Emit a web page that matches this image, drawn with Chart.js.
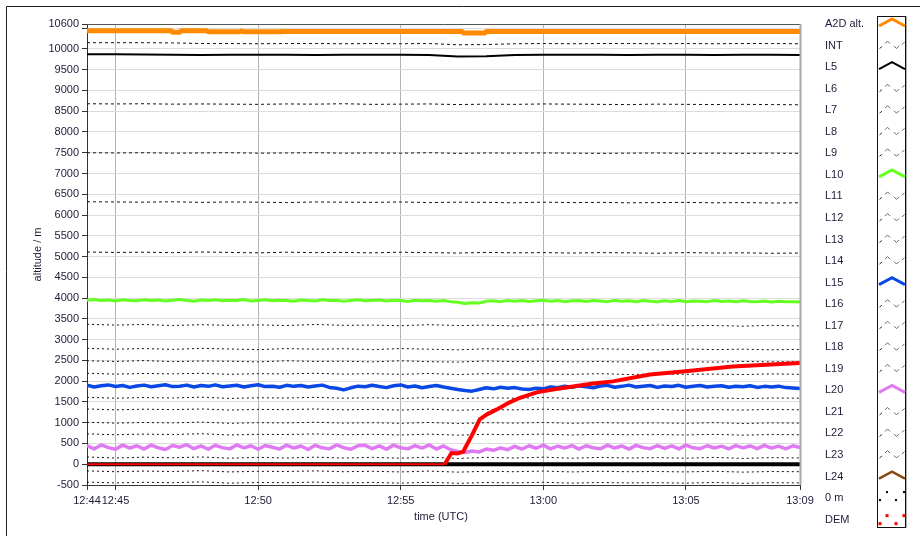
<!DOCTYPE html>
<html>
<head>
<meta charset="utf-8">
<title>Altitude levels</title>
<script src="https://cdn.jsdelivr.net/npm/chart.js@4.4.1/dist/chart.umd.min.js"></script>
<style>
  html, body { margin: 0; padding: 0; background: #ffffff; }
  canvas { display: block; }
</style>
</head>
<body>
<canvas id="chart" width="920" height="536"></canvas>
<script>
// Time axis is in minutes after 12:44 UTC.
const START_MINUTE = 12 * 60 + 44;
const xTickMinutes = [0, 1, 6, 11, 16, 21, 25];
const yTickValues = [-500, 0, 500, 1000, 1500, 2000, 2500, 3000, 3500, 4000, 4500, 5000,
  5500, 6000, 6500, 7000, 7500, 8000, 8500, 9000, 9500, 10000, 10500, 10600];

// Sample times
const minutesEvery1 = [0, 1, 2, 3, 4, 5, 6, 7, 8, 9, 10, 11, 12, 13, 14, 15, 16, 17, 18, 19, 20, 21, 22, 23, 24, 25];
const minutesEvery15s = Array.from({ length: 101 }, (_, i) => i * 0.25);

// Aircraft altitude (A2D)
const a2dTimes = [0, 2.95, 3.0, 3.25, 3.3, 4.2, 4.25, 5.35, 5.4, 5.5, 6.8, 6.85, 13.15, 13.2, 13.95, 14.0, 25];
const a2dAlt = [10436, 10436, 10400, 10400, 10436, 10436, 10415, 10415, 10430, 10415, 10415, 10422, 10422, 10385, 10385, 10422, 10422];

// Level altitudes, one value per minute
const intAlt = [10150,10150,10150,10145,10130,10130,10125,10130,10130,10125,10130,10125,10130,10100,10105,10125,10130,10125,10130,10130,10125,10130,10125,10130,10130,10125];
const l5Alt = [9870,9870,9865,9860,9855,9858,9862,9860,9855,9860,9858,9860,9855,9820,9825,9855,9860,9858,9860,9856,9860,9858,9855,9860,9858,9856];
const l6Alt = [8680,8675,8680,8670,8675,8670,8665,8675,8670,8680,8665,8670,8675,8660,8670,8665,8675,8670,8665,8660,8670,8665,8660,8665,8660,8655];
const l7Alt = [7500,7495,7500,7490,7495,7500,7490,7495,7500,7490,7495,7490,7500,7485,7495,7490,7495,7490,7485,7490,7495,7485,7490,7485,7490,7485];
const l8Alt = [6320,6315,6310,6320,6305,6315,6310,6300,6315,6310,6305,6315,6300,6310,6305,6295,6310,6300,6305,6295,6300,6305,6295,6300,6290,6295];
const l9Alt = [5110,5100,5105,5095,5110,5100,5090,5105,5095,5100,5090,5105,5095,5085,5100,5090,5095,5085,5095,5090,5080,5095,5085,5090,5080,5085];
const l11Alt = [3370,3350,3365,3340,3360,3345,3355,3340,3365,3345,3350,3335,3360,3340,3350,3330,3355,3340,3345,3330,3350,3335,3340,3325,3345,3330];
const l12Alt = [2790,2770,2785,2765,2790,2775,2760,2785,2770,2780,2760,2785,2770,2755,2780,2765,2775,2760,2780,2765,2755,2775,2760,2770,2755,2765];
const l13Alt = [2490,2475,2495,2470,2485,2480,2465,2490,2475,2480,2465,2490,2470,2460,2485,2470,2480,2465,2475,2460,2480,2470,2460,2475,2465,2470];
const l14Alt = [2190,2170,2185,2175,2190,2165,2180,2175,2190,2170,2180,2165,2185,2160,2180,2170,2175,2165,2180,2160,2175,2165,2170,2160,2175,2165];
const l16Alt = [1610,1590,1605,1595,1615,1585,1600,1595,1610,1590,1600,1585,1605,1580,1600,1590,1605,1585,1600,1590,1595,1585,1600,1580,1595,1590];
const l17Alt = [1330,1310,1325,1315,1330,1305,1320,1315,1330,1310,1320,1305,1325,1300,1320,1310,1325,1305,1315,1310,1320,1300,1315,1305,1320,1310];
const l18Alt = [1010,990,1005,995,1015,985,1000,995,1010,990,1000,985,1005,980,1000,990,1005,985,1000,990,995,985,1000,980,995,990];
const l19Alt = [730,710,725,715,735,705,720,715,730,710,720,705,725,700,720,710,725,705,720,710,715,705,720,700,715,710];
const l21Alt = [175,150,170,155,175,145,165,150,170,150,165,145,170,140,165,150,170,145,165,150,160,145,165,140,160,150];
const l22Alt = [-160,-180,-165,-175,-155,-185,-170,-175,-160,-180,-170,-185,-165,-190,-170,-180,-165,-185,-170,-180,-175,-185,-170,-190,-175,-180];
const l23Alt = [-430,-450,-435,-445,-425,-455,-440,-445,-430,-450,-440,-455,-435,-460,-440,-450,-435,-455,-440,-450,-445,-455,-440,-460,-445,-450];
const l24Alt = [-720,-730,-715,-725,-720,-735,-720,-725,-715,-730,-720,-735,-720,-740,-725,-730,-720,-735,-725,-730,-725,-735,-720,-740,-725,-730];
const seaLevel = [0,0,0,0,0,0,0,0,0,0,0,0,0,0,0,0,0,0,0,0,0,0,0,0,0,0];

// Coloured levels, one value every 15 s
const l10Alt = [
  3950,3965,3940,3955,3930,3960,3945,3935,3960,3940,
  3955,3930,3950,3965,3940,3925,3955,3945,3960,3935,
  3950,3940,3965,3930,3945,3960,3935,3950,3940,3925,
  3955,3945,3930,3960,3940,3950,3925,3945,3960,3935,
  3945,3955,3930,3950,3940,3920,3950,3935,3945,3925,
  3940,3915,3900,3870,3890,3880,3925,3935,3915,3940,
  3925,3945,3920,3935,3950,3925,3940,3915,3935,3945,
  3920,3940,3930,3915,3945,3925,3935,3910,3940,3925,
  3915,3935,3920,3940,3910,3930,3925,3915,3940,3920,
  3930,3910,3935,3920,3915,3930,3905,3925,3915,3910,3905];
const l15Alt = [
  1900,1860,1890,1910,1870,1895,1850,1885,1905,1865,
  1890,1915,1870,1880,1905,1860,1895,1875,1910,1865,
  1885,1900,1860,1890,1915,1870,1880,1855,1900,1875,
  1895,1860,1885,1905,1850,1830,1790,1840,1880,1865,
  1900,1870,1845,1890,1910,1860,1885,1840,1870,1895,
  1860,1830,1800,1775,1760,1800,1840,1815,1855,1830,
  1845,1810,1800,1830,1815,1860,1840,1880,1850,1890,
  1865,1840,1885,1900,1855,1875,1905,1860,1880,1895,
  1850,1885,1870,1900,1855,1880,1895,1860,1875,1890,
  1855,1880,1865,1890,1850,1875,1860,1880,1845,1835,1825];
const l20Alt = [
  450,370,465,400,360,460,390,445,365,460,
  395,355,450,410,470,375,440,360,455,400,
  370,465,395,445,360,450,410,365,460,390,
  440,355,455,395,370,465,400,360,445,455,
  375,440,360,460,395,370,450,390,465,365,
  440,350,310,280,320,295,365,335,395,350,
  430,365,445,385,460,370,435,390,450,365,
  445,395,370,460,390,440,365,455,400,375,
  450,380,440,370,460,395,375,445,390,435,
  370,450,395,440,375,455,390,435,370,445,400];

// Terrain height under the track
const demTimes = [0, 12.54, 12.78, 13.0, 13.19, 13.32, 13.5, 13.77, 14.02, 14.37, 14.82, 15.18, 15.77, 16.33, 17.04, 17.74, 18.44, 19.74, 20.89, 22.65, 25];
const demAlt = [0, 0, 270, 260, 300, 470, 700, 1080, 1200, 1320, 1490, 1600, 1730, 1800, 1870, 1945, 1995, 2160, 2235, 2355, 2440];

const pair = (xs, ys) => ys.map((y, i) => ({ x: xs[i], y }));

const solid = (label, xs, ys, color, width, order) => ({
  label, data: pair(xs, ys), borderColor: color, borderWidth: width,
  pointRadius: 0, tension: 0, order, legendIcon: 'solid'
});
const dashed = (label, ys, dash) => ({
  label, data: pair(minutesEvery1, ys), borderColor: '#111111', borderWidth: 1,
  borderDash: dash, pointRadius: 0, tension: 0, order: 5, legendIcon: 'dashed'
});
const LONG_DASH = [3, 3];
const SHORT_DASH = [2, 3];

const datasets = [
  solid('A2D alt.', a2dTimes, a2dAlt, '#ff8a00', 5, 3),
  dashed('INT', intAlt, LONG_DASH),
  solid('L5', minutesEvery1, l5Alt, '#000000', 2, 4),
  dashed('L6', l6Alt, LONG_DASH),
  dashed('L7', l7Alt, LONG_DASH),
  dashed('L8', l8Alt, LONG_DASH),
  dashed('L9', l9Alt, LONG_DASH),
  solid('L10', minutesEvery15s, l10Alt, '#66ff22', 3, 4),
  dashed('L11', l11Alt, SHORT_DASH),
  dashed('L12', l12Alt, SHORT_DASH),
  dashed('L13', l13Alt, SHORT_DASH),
  dashed('L14', l14Alt, SHORT_DASH),
  solid('L15', minutesEvery15s, l15Alt, '#0a48e6', 3.5, 4),
  dashed('L16', l16Alt, SHORT_DASH),
  dashed('L17', l17Alt, SHORT_DASH),
  dashed('L18', l18Alt, SHORT_DASH),
  dashed('L19', l19Alt, SHORT_DASH),
  solid('L20', minutesEvery15s, l20Alt, '#e07af2', 3.5, 4),
  dashed('L21', l21Alt, SHORT_DASH),
  dashed('L22', l22Alt, SHORT_DASH),
  dashed('L23', l23Alt, SHORT_DASH),
  solid('L24', minutesEvery1, l24Alt, '#8b4a12', 2.5, 4),
  Object.assign(solid('0 m', minutesEvery1, seaLevel, '#000000', 4, 1), { legendIcon: 'dots', dotColor: '#000000' }),
  Object.assign(solid('DEM', demTimes, demAlt, '#ff0000', 4, 0), {
    legendIcon: 'dots', dotColor: '#ff0000',
    // flat sea-level stretch is drawn thinner so the 0 m line shows around it
    segment: { borderWidth: (c) => (c.p0.parsed.y === 0 && c.p1.parsed.y === 0 ? 2 : 4) }
  })
];

const fmtTime = (v) => {
  const m = START_MINUTE + v;
  return Math.floor(m / 60) + ':' + String(m % 60).padStart(2, '0');
};

const FONT = "'Liberation Sans', Arial, sans-serif";
const TEXT = '#1c1c38';

// Frame, axis titles and the plot legend on the right
const decorations = {
  id: 'decorations',
  afterDraw(chart) {
    const ctx = chart.ctx;
    const a = chart.chartArea;
    ctx.save();
    // outer frame
    ctx.strokeStyle = '#222';
    ctx.lineWidth = 1;
    ctx.beginPath();
    ctx.moveTo(6.5, 536); ctx.lineTo(6.5, 6.5); ctx.lineTo(920, 6.5);
    ctx.stroke();
    // plot frame top and right
    ctx.strokeStyle = '#555';
    ctx.beginPath(); ctx.moveTo(a.left, a.top + 0.5); ctx.lineTo(a.right, a.top + 0.5); ctx.stroke();
    ctx.strokeStyle = '#a8a8a8';
    ctx.lineWidth = 2;
    ctx.beginPath(); ctx.moveTo(a.right + 0.5, a.top); ctx.lineTo(a.right + 0.5, a.bottom); ctx.stroke();

    // axis titles
    ctx.fillStyle = TEXT;
    ctx.font = '11px ' + FONT;
    ctx.textAlign = 'center';
    ctx.textBaseline = 'middle';
    ctx.fillText('time (UTC)', 441, 517);
    ctx.save();
    ctx.translate(38, (a.top + a.bottom) / 2);
    ctx.rotate(-Math.PI / 2);
    ctx.fillText('altitude / m', 0, 0);
    ctx.restore();

    // legend box
    ctx.lineWidth = 1;
    ctx.strokeStyle = '#111';
    ctx.strokeRect(877.5, 16.5, 28, 511);
    ctx.strokeStyle = '#b0b0b0';
    ctx.beginPath(); ctx.moveTo(906.5, 16); ctx.lineTo(906.5, 528); ctx.stroke();

    // legend entries
    ctx.textAlign = 'left';
    chart.data.datasets.forEach((ds, i) => {
      const cy = 24 + i * 21.55;
      ctx.fillStyle = TEXT;
      ctx.fillText(ds.label, 825, cy);
      if (ds.legendIcon === 'solid') {
        ctx.strokeStyle = ds.borderColor;
        ctx.lineWidth = Math.min(ds.borderWidth, 3);
        ctx.lineJoin = 'miter';
        ctx.beginPath();
        ctx.moveTo(879, cy + 2); ctx.lineTo(892, cy - 5); ctx.lineTo(905, cy + 2);
        ctx.stroke();
      } else if (ds.legendIcon === 'dashed') {
        ctx.lineWidth = 1;
        ctx.strokeStyle = '#333';
        ctx.beginPath(); ctx.moveTo(879.5, cy + 3); ctx.lineTo(882, cy + 1); ctx.stroke();
        ctx.strokeStyle = '#666';
        ctx.beginPath(); ctx.moveTo(885, cy - 2); ctx.lineTo(887.5, cy - 4.5); ctx.lineTo(890, cy - 2); ctx.stroke();
        ctx.beginPath(); ctx.moveTo(894, cy + 0.5); ctx.lineTo(896.5, cy + 3); ctx.lineTo(899, cy + 0.5); ctx.stroke();
        ctx.beginPath(); ctx.moveTo(902, cy - 1); ctx.lineTo(904.5, cy - 3.5); ctx.stroke();
      } else if (ds.legendIcon === 'dots') {
        ctx.fillStyle = ds.dotColor;
        const red = ds.dotColor === '#ff0000';
        const s = red ? 3 : 2;
        const up = red ? -4 : -6;
        const dn = red ? 4 : 2;
        [[887, up], [904, up], [880, dn], [896, dn]].forEach(([x, dy]) => {
          ctx.fillRect(x - s / 2, cy + dy - s / 2, s, s);
        });
      }
    });
    ctx.restore();
  }
};

new Chart(document.getElementById('chart'), {
  type: 'line',
  data: { datasets },
  options: {
    responsive: false,
    animation: false,
    devicePixelRatio: 1,
    layout: { padding: { left: 0, right: 120, top: 24, bottom: 0 } },
    plugins: { legend: { display: false }, tooltip: { enabled: false } },
    elements: { line: { borderCapStyle: 'butt', borderJoinStyle: 'round' } },
    scales: {
      x: {
        type: 'linear',
        min: 0,
        max: 25,
        afterBuildTicks: (axis) => { axis.ticks = xTickMinutes.map(v => ({ value: v })); },
        afterFit: (axis) => { axis.height = 51; },
        ticks: {
          autoSkip: false, maxRotation: 0, minRotation: 0, padding: 4,
          color: TEXT, font: { family: FONT, size: 11 },
          callback: (v) => fmtTime(v)
        },
        grid: {
          color: (c) => (c.tick && (c.tick.value === 0 || c.tick.value === 25)) ? 'rgba(0,0,0,0)' : '#b4b4b4',
          tickColor: '#333', tickLength: 5, lineWidth: 1
        },
        border: { color: '#333', width: 1 }
      },
      y: {
        type: 'linear',
        min: -500,
        max: 10600,
        afterBuildTicks: (axis) => { axis.ticks = yTickValues.map(v => ({ value: v })); },
        afterFit: (axis) => { axis.width = 87; },
        ticks: {
          autoSkip: false, padding: 3,
          color: TEXT, font: { family: FONT, size: 11 },
          callback: (v) => (v === 10500 ? '' : String(v))
        },
        grid: { color: '#dcdcdc', tickColor: '#333', tickLength: 5, lineWidth: 1 },
        border: { color: '#333', width: 1 }
      }
    }
  },
  plugins: [decorations]
});
</script>
</body>
</html>
